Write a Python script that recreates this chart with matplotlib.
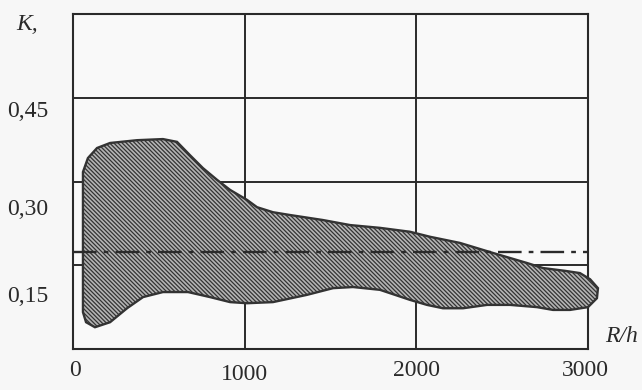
import matplotlib
matplotlib.use("Agg")
import matplotlib.pyplot as plt
import matplotlib.transforms as mtransforms
from matplotlib.patches import Polygon

# ---- data ----
x_ticks = [0, 1000, 2000, 3000]
x_tick_labels = ["0", "1000", "2000", "3000"]
y_ticks = [0.15, 0.30, 0.45]
y_tick_labels = ["0,15", "0,30", "0,45"]

# outline of the hatched scatter region (R/h, K)
region_x = [128, 76, 58, 58, 58, 87, 140, 216, 373, 524, 606, 682, 757, 839, 915,
            1014, 1072, 1165, 1264, 1456, 1614, 1788, 1963, 2080, 2254, 2447, 2645,
            2738, 2866, 2953, 3012, 3058, 3052, 3000, 2895, 2796, 2703, 2546, 2412,
            2272, 2155, 2062, 1963, 1788, 1631, 1515, 1363, 1165, 1014, 915, 798,
            670, 524, 408, 315, 216]
region_y = [0.039, 0.048, 0.066, 0.177, 0.317, 0.342, 0.360, 0.369, 0.374, 0.376,
            0.371, 0.347, 0.324, 0.303, 0.285, 0.267, 0.254, 0.245, 0.240, 0.231,
            0.222, 0.217, 0.210, 0.201, 0.190, 0.172, 0.154, 0.145, 0.140, 0.136,
            0.125, 0.109, 0.091, 0.075, 0.070, 0.070, 0.075, 0.079, 0.079, 0.073,
            0.073, 0.079, 0.088, 0.106, 0.111, 0.109, 0.097, 0.084, 0.082, 0.084,
            0.093, 0.102, 0.102, 0.093, 0.073, 0.048]

mean_x = [0, 3000]
mean_y = [0.174, 0.174]

x_limits = [0, 3000]
y_limits = [0.0, 0.60]

# ---- figure ----
serif = ["Liberation Serif", "DejaVu Serif"]
ink = "#2a2a2a"
fs = 17
fig = plt.figure(figsize=(6.42, 3.90), dpi=100, facecolor="#f7f7f7")
ax = fig.add_axes([0.1137, 0.1051, 0.8022, 0.8590])
ax.set_facecolor("#f9f9f9")
ax.set_xlim(x_limits)
ax.set_ylim(y_limits)

ax.set_xticks(x_ticks)
ax.set_xticklabels(x_tick_labels, family=serif, fontsize=fs, color=ink)
ax.set_yticks(y_ticks)
ax.set_yticklabels(y_tick_labels, family=serif, fontsize=fs, color=ink)
ax.tick_params(length=0, pad=8)
ax.tick_params(axis="y", pad=18)
ax.grid(True, color=ink, linewidth=1.4)
ax.set_axisbelow(False)
for s in ax.spines.values():
    s.set_color(ink)
    s.set_linewidth(1.5)

# shift tick labels to mimic the scanned layout
x_shift = {"0": (2, 0), "1000": (0, -4), "2000": (0, 0), "3000": (-3, 0)}
for lbl in ax.get_xticklabels():
    dx, dy = x_shift.get(lbl.get_text(), (0, 0))
    lbl.set_transform(lbl.get_transform() + mtransforms.ScaledTranslation(dx / 100, dy / 100, fig.dpi_scale_trans))
y_shift = {"0,45": -11, "0,30": -25, "0,15": -29}
for lbl in ax.get_yticklabels():
    dy = y_shift.get(lbl.get_text(), 0)
    lbl.set_transform(lbl.get_transform() + mtransforms.ScaledTranslation(0, dy / 100, fig.dpi_scale_trans))

plt.rcParams["hatch.linewidth"] = 0.9
poly = Polygon(list(zip(region_x, region_y)), closed=True, facecolor="#b4b4b4",
               edgecolor="#333333", linewidth=1.7, hatch="\\" * 8, zorder=3,
               clip_on=False)
ax.add_patch(poly)

ax.plot(mean_x, mean_y, color=ink, linewidth=1.7, linestyle=(0, (10, 3, 2, 3)), zorder=4)

fig.text(27 / 642, 1 - 25 / 390, "K,", family=serif, style="italic", fontsize=fs,
         color=ink, ha="center", va="center")
fig.text(622 / 642, 1 - 337 / 390, "R/h", family=serif, style="italic", fontsize=fs,
         color=ink, ha="center", va="center")

fig.savefig("out.png", dpi=100, facecolor=fig.get_facecolor())
